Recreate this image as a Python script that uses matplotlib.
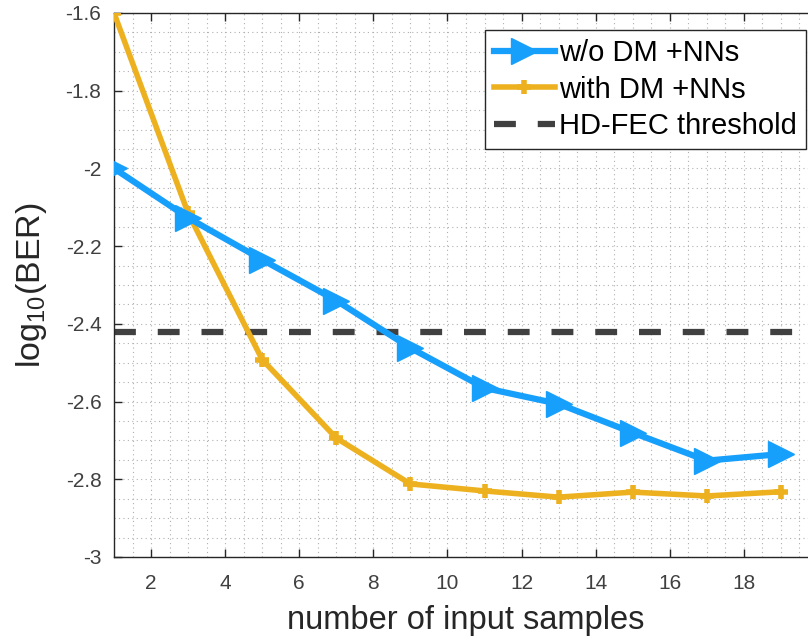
import matplotlib
matplotlib.use("Agg")
import matplotlib.pyplot as plt
from matplotlib.ticker import MultipleLocator, FuncFormatter

plt.rcParams['font.family'] = ['Liberation Sans', 'DejaVu Sans']
plt.rcParams['mathtext.fontset'] = 'custom'
plt.rcParams['mathtext.rm'] = 'Liberation Sans'

# number of input samples
samples = [1, 3, 5, 7, 9, 11, 13, 15, 17, 19]
# log10(BER) without DM, with NNs
ber_wo_dm = [-2.00, -2.127, -2.235, -2.34, -2.462, -2.565, -2.606, -2.68, -2.752, -2.735]
# log10(BER) with DM and NNs
ber_with_dm = [-1.60, -2.115, -2.492, -2.694, -2.812, -2.83, -2.846, -2.833, -2.843, -2.832]
# hard-decision FEC threshold (log10 of 3.8e-3)
hd_fec = -2.42

xticks = [2, 4, 6, 8, 10, 12, 14, 16, 18]
yticks = [-3, -2.8, -2.6, -2.4, -2.2, -2, -1.8, -1.6]

fig = plt.figure(figsize=(8.08, 6.41), dpi=100)
ax = fig.add_axes([114/808, 84/641, 704/808, 544/641])

blue = '#179ffc'
orange = '#edb120'
ax.plot(samples, ber_wo_dm, color=blue, lw=4.5, marker='>', ms=19,
        label='w/o DM +NNs', zorder=4)
ax.plot(samples, ber_with_dm, color=orange, lw=4.0, marker='+', ms=10, mew=4,
        label='with DM +NNs', zorder=3)
ax.axhline(hd_fec, color='#404040', lw=4.5, ls=(0, (3.5, 3.5)),
           label='HD-FEC threshold', zorder=2)

ax.set_xlim(1, 20)
ax.set_ylim(-3, -1.6)
ax.set_xticks(xticks)
ax.set_yticks(yticks)
ax.yaxis.set_major_formatter(FuncFormatter(lambda v, p: f'{v:g}'))
ax.xaxis.set_minor_locator(MultipleLocator(0.5))
ax.yaxis.set_minor_locator(MultipleLocator(0.05))

ax.grid(True, which='both', color='#b0b0b0', ls=(0, (1, 3)), lw=0.8)
ax.set_axisbelow(True)
ax.tick_params(which='major', direction='in', length=6, width=1, top=True,
               right=True, labelsize=15, colors='#262626', labelcolor='#404040')
ax.tick_params(axis='x', which='major', pad=12)
ax.tick_params(axis='y', which='major', pad=9)
ax.tick_params(which='minor', length=0)
for s in ax.spines.values():
    s.set_color('#262626')
    s.set_linewidth(1)

ax.set_xlabel('number of input samples', fontsize=23.5, color='#262626', labelpad=9)
ax.set_ylabel(r'log$_{10}$(BER)', fontsize=24.5, color='#262626', labelpad=12)

leg = ax.legend(loc='upper right', bbox_to_anchor=(806/808, 611/641),
                bbox_transform=fig.transFigure, fontsize=21, frameon=True,
                fancybox=False, edgecolor='#262626', framealpha=1,
                handlelength=2.1, handletextpad=0.15, borderpad=0.3,
                labelspacing=0.3, borderaxespad=0)
leg.get_frame().set_linewidth(1)

fig.savefig('out.png', dpi=100)
